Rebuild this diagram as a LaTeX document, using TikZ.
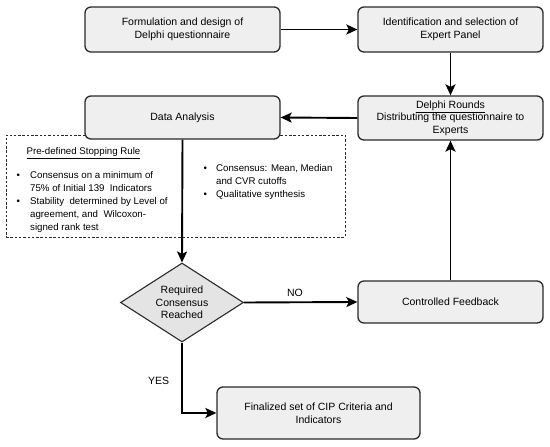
\documentclass[tikz,border=0pt]{standalone}
\usepackage{fontspec}
\setmainfont{Liberation Sans}
\usetikzlibrary{shapes.geometric,arrows.meta}
\definecolor{boxfill}{HTML}{EFEFEF}
\definecolor{diafill}{HTML}{E4E4E4}
\definecolor{edge}{HTML}{2A2A2A}
\begin{document}
\begin{tikzpicture}[x=1pt,y=-1pt,
  procbox/.style={draw=edge, line width=1.3pt, rounded corners=6pt, fill=boxfill,
    align=center, inner sep=0pt, font=\fontsize{10.5}{12.5}\selectfont},
  decbox/.style={diamond, draw=edge, line width=1.1pt, fill=diafill, inner sep=0pt},
  conn/.style={line width=1.9pt, -{Stealth[length=11pt,width=10pt,inset=2.5pt]}},
  rulebox/.style={draw=edge, line width=0.8pt, dash pattern=on 2.5pt off 1.8pt, inner sep=0pt},
  small/.style={inner sep=0pt, font=\fontsize{9.7}{13}\selectfont},
  lbl/.style={inner sep=0pt, font=\fontsize{10.5}{12.5}\selectfont}]
\useasboundingbox (0,0) rectangle (550,447);

% dashed rule box (behind)
\node[rulebox, minimum width=339pt, minimum height=102pt] (rules) at (175.5,186) {};
\node[small] (head) at (83.5,153) {\underline{Pre-defined Stopping Rule}};
\node[small, anchor=north west] (leftlist) at (16.3,169.4) {%
  \begin{tabular}{@{}p{13.7pt}@{}l@{}}
  \textbullet & Consensus on a minimum of\\
   & 75\% of Initial 139\ \ Indicators\\
  \textbullet & Stability\ \ determined by Level of\\
   & agreement, and\ \ Wilcoxon-\\
   & signed rank test
  \end{tabular}};
\node[small, anchor=north west] (rightlist) at (203.3,162.4) {%
  \begin{tabular}{@{}p{12.7pt}@{}l@{}}
  \textbullet & Consensus: Mean, Median\\
   & and CVR cutoffs\\
  \textbullet & Qualitative synthesis
  \end{tabular}};

% process boxes
\node[procbox, minimum width=195pt, minimum height=45pt] (form) at (182.5,29.5)
  {Formulation and design of\\Delphi questionnaire};
\node[procbox, minimum width=185pt, minimum height=45pt] (panel) at (450.5,29.5)
  {Identification and selection of\\Expert Panel};
\node[procbox, minimum width=195pt, minimum height=43pt] (data) at (182.5,117.5)
  {Data Analysis};
\node[procbox, minimum width=185pt, minimum height=44pt] (rounds) at (450.5,118)
  {\underline{Delphi Rounds}\\Distributing the questionnaire to\\Experts};
\node[procbox, minimum width=185pt, minimum height=42pt] (feed) at (450.5,302)
  {Controlled Feedback};
\node[procbox, minimum width=203pt, minimum height=52pt] (final) at (318.5,413)
  {Finalized set of CIP Criteria and\\Indicators};

% decision
\node[decbox, minimum width=123pt, minimum height=79pt] (dec) at (182,302.5) {};
\node[lbl, align=center] (dectext) at (dec.center)
  {Required\\Consensus\\Reached};

% connectors
\draw[conn] (form.east) -- (panel.west);
\draw[conn] (panel.south) -- (rounds.north);
\draw[conn] (rounds.west) -- (data.east);
\draw[conn] (data.south) -- (dec.north);
\draw[conn] (dec.east) -- node[lbl, above=5pt, pos=0.45] (no) {NO} (feed.west);
\draw[conn] (feed.north) -- (rounds.south);
\draw[conn] (dec.south) |- node[lbl, left=12pt, pos=0.27] (yes) {YES} (final.west);
\end{tikzpicture}
\end{document}
